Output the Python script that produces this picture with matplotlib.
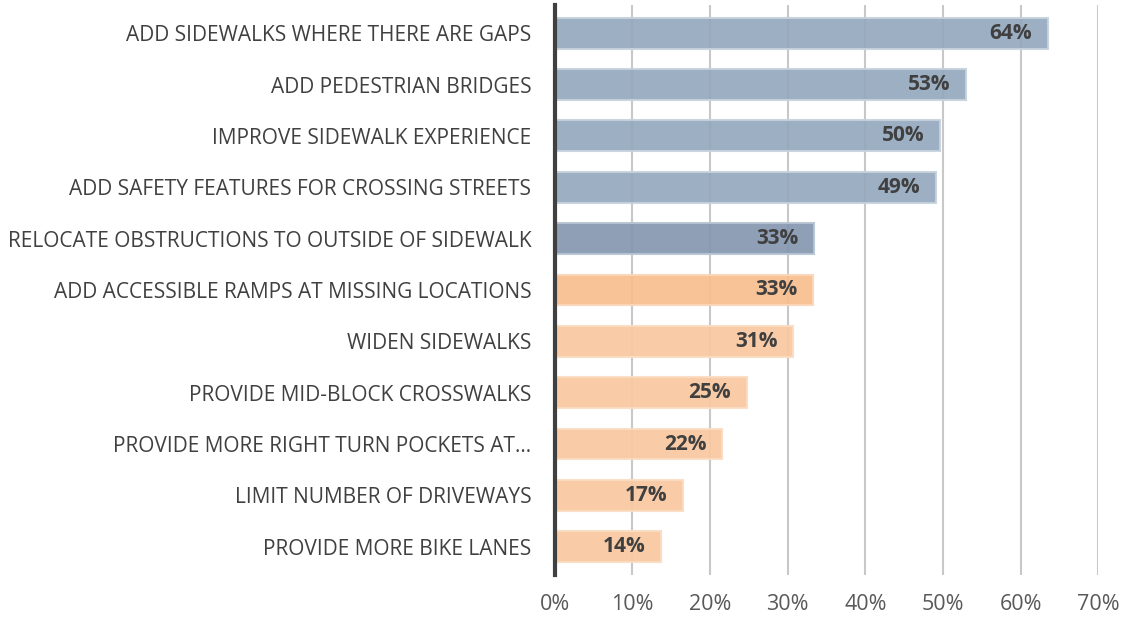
import matplotlib.pyplot as plt
import numpy as np

categories = [
    "ADD SIDEWALKS WHERE THERE ARE GAPS",
    "ADD PEDESTRIAN BRIDGES",
    "IMPROVE SIDEWALK EXPERIENCE",
    "ADD SAFETY FEATURES FOR CROSSING STREETS",
    "RELOCATE OBSTRUCTIONS TO OUTSIDE OF SIDEWALK",
    "ADD ACCESSIBLE RAMPS AT MISSING LOCATIONS",
    "WIDEN SIDEWALKS",
    "PROVIDE MID-BLOCK CROSSWALKS",
    "PROVIDE MORE RIGHT TURN POCKETS AT\u2026",
    "LIMIT NUMBER OF DRIVEWAYS",
    "PROVIDE MORE BIKE LANES",
]
values = [0.635, 0.53, 0.496, 0.491, 0.334, 0.332, 0.307, 0.247, 0.216, 0.165, 0.137]
labels = ["64%", "53%", "50%", "49%", "33%", "33%", "31%", "25%", "22%", "17%", "14%"]
# blue for the top five, orange for the rest; the 5th and 6th are a shade darker
face_colors = ["#95a8bd"] * 4 + ["#8497b0", "#f8be8e"] + ["#f9c8a0"] * 5
edge_colors = ["#c6d2de"] * 4 + ["#b7c4d3", "#fad7b9"] + ["#fbdcc2"] * 5
xticks = [0, 0.1, 0.2, 0.3, 0.4, 0.5, 0.6, 0.7]

plt.rcParams['font.family'] = ['Open Sans', 'DejaVu Sans']

fig = plt.figure(figsize=(11.23, 6.17), dpi=100)
ax = fig.add_axes([0.494, 0.068, 0.484, 0.924])

y = np.arange(len(categories))
ax.barh(y, values, height=0.6, color=face_colors, edgecolor=edge_colors,
        linewidth=1.5, alpha=0.92, zorder=2)

for yi, v, lab in zip(y, values, labels):
    ax.text(v - 0.02, yi, lab, ha="right", va="center", fontsize=15,
            fontweight="bold", color="#404040", zorder=3)

ax.set_ylim(len(categories) - 0.45, -0.55)
ax.set_xlim(0, 0.7)
ax.set_yticks(y)
ax.set_yticklabels(categories, fontsize=15, color="#404040")
ax.set_xticks(xticks)
ax.set_xticklabels([f"{int(round(t * 100))}%" for t in xticks], fontsize=15.5, color="#595959")

ax.grid(axis="x", color="#c8c8c8", linewidth=1.5, zorder=0)
ax.set_axisbelow(True)
for s in ["top", "right", "bottom"]:
    ax.spines[s].set_visible(False)
ax.spines["left"].set_color("#404040")
ax.spines["left"].set_linewidth(3)
ax.tick_params(axis="both", length=0)
ax.tick_params(axis="y", pad=17)
ax.tick_params(axis="x", pad=14)

fig.savefig("out.png", dpi=100)
